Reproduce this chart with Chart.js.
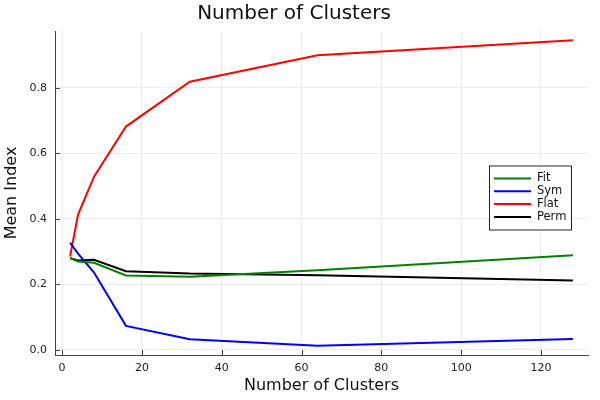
<!DOCTYPE html>
<html>
<head>
<meta charset="utf-8">
<script src="https://cdn.jsdelivr.net/npm/chart.js@4"></script>
<style>
  html, body { margin: 0; padding: 0; background: #fff; }
  #wrap { width: 600px; height: 400px; }
</style>
</head>
<body>
<div id="wrap"><canvas id="clusters"></canvas></div>
<script>
// Data
var clusters = [2, 4, 8, 16, 32, 64, 128];
var fitValues = [0.280, 0.270, 0.266, 0.227, 0.223, 0.243, 0.289];
var symValues = [0.327, 0.294, 0.236, 0.073, 0.032, 0.012, 0.033];
var flatValues = [0.285, 0.413, 0.529, 0.682, 0.819, 0.900, 0.946];
var permValues = [0.280, 0.273, 0.275, 0.240, 0.233, 0.228, 0.212];
var xTicks = [0, 20, 40, 60, 80, 100, 120];
var yTicks = [0.0, 0.2, 0.4, 0.6, 0.8];

var fontName = "'DejaVu Sans', sans-serif";

function toPoints(values) {
  return clusters.map(function (c, i) {
    return { x: c, y: values[i] };
  });
}

function makeSeries(label, values, color) {
  return {
    label: label,
    data: toPoints(values),
    borderColor: color,
    backgroundColor: color,
    borderWidth: 2,
    pointRadius: 0,
    fill: false,
    tension: 0,
  };
}

// small tick marks pointing into the plot, like the GR backend
var innerTicks = {
  id: "innerTicks",
  beforeDatasetsDraw: function (chart) {
    var ctx = chart.ctx;
    var area = chart.chartArea;
    var xs = chart.scales.x;
    var ys = chart.scales.y;
    ctx.save();
    ctx.strokeStyle = "#444";
    ctx.lineWidth = 1;
    ctx.beginPath();
    xs.ticks.forEach(function (t) {
      var px = Math.round(xs.getPixelForValue(t.value)) + 0.5;
      ctx.moveTo(px, area.bottom);
      ctx.lineTo(px, area.bottom - 5);
    });
    ys.ticks.forEach(function (t) {
      var py = Math.round(ys.getPixelForValue(t.value)) + 0.5;
      ctx.moveTo(area.left, py);
      ctx.lineTo(area.left + 5, py);
    });
    ctx.stroke();
    ctx.restore();
  },
};

// legend box inside the plot on the right
var boxLegend = {
  id: "boxLegend",
  afterDatasetsDraw: function (chart) {
    var ctx = chart.ctx;
    var left = 489, top = 165.5, w = 82, h = 64;
    ctx.save();
    ctx.fillStyle = "#fff";
    ctx.fillRect(left, top, w, h);
    ctx.strokeStyle = "#222";
    ctx.lineWidth = 1;
    ctx.strokeRect(left + 0.5, top + 0.5, w, h);
    ctx.font = "11.5px " + fontName;
    ctx.textBaseline = "middle";
    chart.data.datasets.forEach(function (ds, i) {
      var y = top + 13 + i * 12.8;
      ctx.strokeStyle = ds.borderColor;
      ctx.lineWidth = 2;
      ctx.beginPath();
      ctx.moveTo(left + 5, y);
      ctx.lineTo(left + 42, y);
      ctx.stroke();
      ctx.fillStyle = "#111";
      ctx.fillText(ds.label, left + 48, y);
    });
    ctx.restore();
  },
};

var ctx = document.getElementById("clusters").getContext("2d");
var chart = new Chart(ctx, {
  type: "line",
  data: {
    datasets: [
      makeSeries("Fit", fitValues, "#008000"),
      makeSeries("Sym", symValues, "#0000ff"),
      makeSeries("Flat", flatValues, "#ff0000"),
      makeSeries("Perm", permValues, "#000000"),
    ],
  },
  options: {
    responsive: true,
    maintainAspectRatio: false,
    animation: false,
    layout: { padding: { left: 0, right: 12, top: 0, bottom: 0 } },
    plugins: {
      legend: { display: false },
      tooltip: { enabled: false },
      title: {
        display: true,
        text: "Number of Clusters",
        color: "#111",
        font: { family: fontName, size: 20, weight: "normal", lineHeight: 1.1 },
        padding: { top: 3, bottom: 6 },
      },
    },
    scales: {
      x: {
        type: "linear",
        min: -1.78,
        max: 131.78,
        afterBuildTicks: function (scale) {
          scale.ticks = xTicks.map(function (v) { return { value: v }; });
        },
        afterFit: function (scale) { scale.height = 45; },
        grid: { color: "rgba(0,0,0,0.07)", lineWidth: 1, drawTicks: false },
        border: { display: true, color: "#444", width: 1 },
        ticks: {
          color: "#222",
          padding: 7,
          maxRotation: 0,
          font: { family: fontName, size: 11 },
          callback: function (v) { return String(v); },
        },
        title: {
          display: true,
          text: "Number of Clusters",
          color: "#111",
          font: { family: fontName, size: 16, lineHeight: 1.2 },
          padding: { top: 0, bottom: 5 },
        },
      },
      y: {
        type: "linear",
        min: -0.016,
        max: 0.974,
        afterBuildTicks: function (scale) {
          scale.ticks = yTicks.map(function (v) { return { value: v }; });
        },
        afterFit: function (scale) { scale.width = 55; },
        grid: { color: "rgba(0,0,0,0.07)", lineWidth: 1, drawTicks: false },
        border: { display: true, color: "#444", width: 1 },
        ticks: {
          color: "#222",
          padding: 8,
          font: { family: fontName, size: 11 },
          callback: function (v) { return v.toFixed(1); },
        },
        title: {
          display: true,
          text: "Mean Index",
          color: "#111",
          font: { family: fontName, size: 16, lineHeight: 1.2 },
          padding: { top: 2.5, bottom: 0 },
        },
      },
    },
  },
  plugins: [innerTicks, boxLegend],
});
</script>
</body>
</html>
